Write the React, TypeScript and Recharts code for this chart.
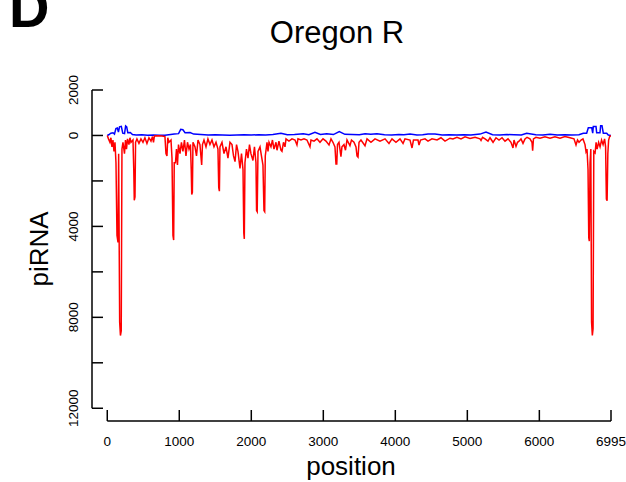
import { LineChart, Line, XAxis, YAxis, ReferenceLine } from "recharts";

const FONT = '"Liberation Sans", Arial, Helvetica, sans-serif';

// tick marks of the original R plot
const xTicks = [0, 1000, 2000, 3000, 4000, 5000, 6000, 6995];
const yTicks = [2000, 0, -2000, -4000, -6000, -8000, -10000, -12000];
const yLabelled = [2000, 0, -4000, -8000, -12000];

// antisense piRNA (red), position along the element
const redPos = [
  0, 17, 37, 51, 65, 79, 93, 107, 121, 135,
  149, 158, 172, 183, 194, 204, 218, 239, 253, 267,
  281, 301, 315, 329, 357, 368, 375, 385, 393, 412,
  440, 468, 496, 523, 551, 579, 607, 628, 642, 655,
  704, 760, 801, 815, 829, 840, 857, 885, 899, 912,
  922, 930, 947, 961, 975, 989, 1010, 1030, 1051, 1072,
  1093, 1114, 1135, 1155, 1166, 1173, 1182, 1190, 1218, 1239,
  1260, 1287, 1311, 1322, 1343, 1371, 1398, 1426, 1454, 1482,
  1510, 1537, 1548, 1557, 1565, 1593, 1621, 1649, 1676, 1704,
  1732, 1753, 1774, 1795, 1815, 1843, 1864, 1885, 1896, 1903,
  1912, 1933, 1954, 1975, 1995, 2023, 2044, 2065, 2073, 2082,
  2093, 2121, 2141, 2162, 2176, 2186, 2194, 2218, 2232, 2246,
  2273, 2294, 2315, 2343, 2357, 2384, 2412, 2426, 2447, 2468,
  2482, 2523, 2565, 2607, 2634, 2648, 2690, 2732, 2773, 2815,
  2829, 2871, 2912, 2954, 2996, 3037, 3079, 3107, 3134, 3162,
  3176, 3187, 3197, 3218, 3245, 3259, 3287, 3308, 3329, 3370,
  3391, 3426, 3454, 3468, 3482, 3496, 3523, 3579, 3607, 3662,
  3718, 3787, 3857, 3912, 3954, 4009, 4065, 4107, 4134, 4204,
  4232, 4252, 4315, 4329, 4350, 4412, 4454, 4509, 4579, 4634,
  4690, 4759, 4800, 4856, 4912, 4968, 5037, 5107, 5176, 5190,
  5211, 5246, 5287, 5315, 5357, 5398, 5440, 5482, 5523, 5565,
  5606, 5634, 5648, 5676, 5697, 5718, 5745, 5773, 5801, 5829,
  5870, 5898, 5907, 5918, 5953, 6009, 6078, 6148, 6217, 6287,
  6356, 6426, 6481, 6509, 6530, 6551, 6579, 6606, 6634, 6648,
  6662, 6676, 6686, 6694, 6704, 6715, 6725, 6736, 6746, 6756,
  6774, 6788, 6802, 6823, 6843, 6864, 6885, 6906, 6920, 6931,
  6941, 6951, 6962, 6976, 6995,
];
const redVal = [
  0, -150, -300, -100, -500, -200, -700, -300, -1200, -4400,
  -4700, -800, -8200, -8800, -8600, -600, -300, -800, -200, -600,
  -150, -400, -100, -300, -200, -1500, -2850, -2700, -300, -150,
  -350, -150, -300, -100, -350, -100, -250, -50, -300, -20,
  -10, -20, -50, -800, -900, -100, -300, -200, -1000, -4400,
  -4600, -1200, -1200, -600, -1300, -400, -800, -300, -700, -200,
  -900, -300, -600, -400, -1500, -2600, -2500, -300, -500, -900,
  -200, -400, -1300, -400, -200, -500, -150, -400, -200, -500,
  -300, -600, -2300, -2450, -500, -300, -800, -500, -1000, -300,
  -400, -900, -1150, -400, -700, -1450, -800, -1500, -4300, -4550,
  -1200, -600, -1000, -400, -800, -1100, -500, -1200, -3300, -3350,
  -700, -500, -900, -1300, -3300, -3350, -900, -300, -700, -300,
  -500, -200, -600, -300, -650, -250, -650, -700, -300, -500,
  -150, -250, -150, -200, -420, -150, -200, -150, -200, -500,
  -200, -250, -150, -300, -150, -250, -420, -150, -300, -500,
  -1250, -1250, -400, -300, -930, -500, -400, -650, -200, -450,
  -200, -300, -500, -900, -950, -300, -200, -450, -150, -300,
  -150, -250, -150, -350, -150, -300, -150, -350, -150, -200,
  -550, -200, -200, -420, -200, -150, -250, -150, -200, -100,
  -250, -120, -150, -80, -150, -60, -130, -80, -150, -220,
  -80, -150, -250, -100, -300, -100, -200, -100, -250, -150,
  -300, -550, -200, -480, -300, -250, -150, -350, -150, -80,
  -150, -300, -670, -150, -80, -120, -60, -120, -60, -120,
  -50, -100, -150, -420, -200, -300, -200, -150, -400, -710,
  -600, -1500, -4500, -4650, -1200, -600, -8200, -8800, -8500, -700,
  -770, -300, -600, -300, -500, -200, -400, -150, -500, -2800,
  -2870, -800, -200, -50, 0,
];

// sense piRNA (blue)
const bluePos = [
  0, 20, 50, 80, 100, 120, 140, 155, 170, 195,
  215, 240, 255, 270, 285, 320, 350, 400, 480, 560,
  640, 720, 800, 880, 930, 990, 1020, 1050, 1080, 1150,
  1200, 1300, 1400, 1500, 1600, 1700, 1800, 1900, 2000, 2100,
  2200, 2300, 2412, 2500, 2600, 2722, 2800, 2884, 2960, 3047,
  3140, 3222, 3300, 3400, 3500, 3580, 3660, 3745, 3850, 3950,
  4050, 4120, 4204, 4300, 4380, 4454, 4551, 4650, 4750, 4850,
  4950, 5050, 5176, 5259, 5350, 5450, 5550, 5650, 5750, 5824,
  5950, 6050, 6148, 6250, 6350, 6450, 6550, 6610, 6657, 6680,
  6727, 6741, 6749, 6787, 6796, 6842, 6851, 6870, 6888, 6935,
  6957, 6995,
];
const blueVal = [
  0, 30, 100, 120, 60, 300, 330, 150, 380, 400,
  100, 80, 420, 380, 120, 130, 40, 20, 30, 10,
  20, 10, 10, 40, 60, 80, 270, 250, 120, 130,
  60, 40, 20, 30, 20, 10, 20, 30, 20, 30,
  20, 40, 100, 30, 40, 80, 30, 140, 40, 80,
  40, 170, 50, 40, 30, 80, 50, 80, 30, 20,
  40, 30, 60, 20, 30, 60, 60, 20, 30, 20,
  30, 20, 60, 150, 30, 20, 40, 30, 20, 100,
  30, 20, 50, 20, 30, 20, 30, 100, 100, 340,
  340, 100, 390, 390, 120, 120, 430, 430, 100, 100,
  20, 0,
];

const redData = redPos.map((pos, i) => ({ pos, v: redVal[i] }));
const blueData = bluePos.map((pos, i) => ({ pos, v: blueVal[i] }));

const X_MIN = -212;
const Y_MIN = -12560;

function XTick({ x, y, payload }: any) {
  return (
    <g>
      <line x1={x} y1={y} x2={x} y2={y - 11} stroke="#000" strokeWidth={1.5} />
      <text x={x} y={y + 25} textAnchor="middle" fontSize={13.5} fontFamily={FONT} fill="#000">
        {payload.value}
      </text>
    </g>
  );
}

function YTick({ x, y, payload }: any) {
  const show = yLabelled.includes(payload.value);
  return (
    <g>
      <line x1={x} y1={y} x2={x + 11} y2={y} stroke="#000" strokeWidth={1.5} />
      {show && (
        <text
          x={x - 14}
          y={y}
          transform={`rotate(-90 ${x - 14} ${y})`}
          textAnchor="middle"
          fontSize={13.5}
          fontFamily={FONT}
          fill="#000"
        >
          {Math.abs(payload.value)}
        </text>
      )}
    </g>
  );
}

export default function App() {
  return (
    <div style={{ position: "absolute", left: 0, top: 0, width: 626, height: 482, background: "#fff" }}>
      <LineChart width={626} height={482} margin={{ top: 90, right: 15, bottom: 0, left: 32 }}>
        <XAxis
          type="number"
          dataKey="pos"
          domain={[X_MIN, 6995]}
          ticks={xTicks}
          interval={0}
          allowDataOverflow
          axisLine={false}
          tickLine={false}
          tickSize={0}
          tickMargin={0}
          height={61}
          tick={<XTick />}
        />
        <YAxis
          type="number"
          domain={[Y_MIN, 2000]}
          ticks={yTicks}
          interval={0}
          allowDataOverflow
          axisLine={false}
          tickLine={false}
          tickSize={0}
          tickMargin={0}
          width={60}
          tick={<YTick />}
        />
        <Line data={blueData} dataKey="v" type="linear" stroke="#0000ff" strokeWidth={1.5} dot={false} isAnimationActive={false} />
        <Line data={redData} dataKey="v" type="linear" stroke="#ff0000" strokeWidth={1.5} dot={false} isAnimationActive={false} />
        <ReferenceLine
          segment={[{ x: X_MIN, y: 2000 }, { x: X_MIN, y: -12000 }]}
          stroke="#000"
          strokeWidth={1.5}
          ifOverflow="visible"
        />
        <ReferenceLine
          segment={[{ x: 0, y: Y_MIN }, { x: 6995, y: Y_MIN }]}
          stroke="#000"
          strokeWidth={1.5}
          ifOverflow="visible"
        />
      </LineChart>
      <svg width={626} height={482} style={{ position: "absolute", left: 0, top: 0, pointerEvents: "none" }}>
        <text x={9} y={27} fontSize={56} fontWeight="bold" fontFamily={FONT} fill="#000">D</text>
        <text x={337} y={43} fontSize={31} textAnchor="middle" fontFamily={FONT} fill="#000">Oregon R</text>
        <text x={351} y={475} fontSize={26} textAnchor="middle" fontFamily={FONT} fill="#000">position</text>
        <text
          x={47.5}
          y={249}
          transform="rotate(-90 47.5 249)"
          fontSize={26}
          textAnchor="middle"
          fontFamily={FONT}
          fill="#000"
        >
          piRNA
        </text>
      </svg>
    </div>
  );
}
